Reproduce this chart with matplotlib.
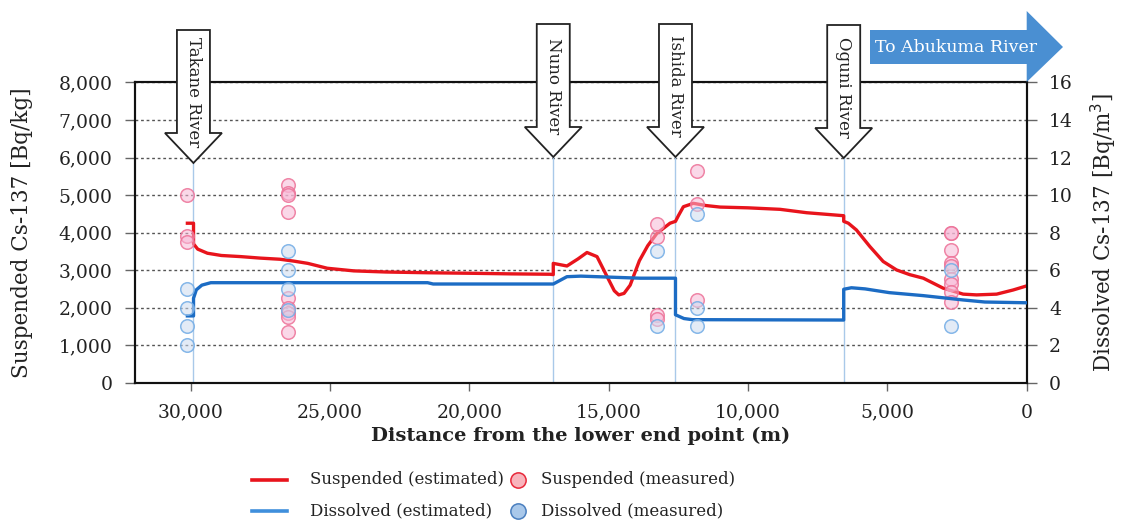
import matplotlib
matplotlib.use("Agg")
import matplotlib.pyplot as plt
from matplotlib.patches import Polygon
from matplotlib.lines import Line2D
from matplotlib.ticker import FuncFormatter, MultipleLocator

plt.rcParams['font.family'] = ['DejaVu Serif']

# ---- data -------------------------------------------------------------
# suspended Cs-137 along the river, estimated (distance m, Bq/kg)
susp_est_dist = [30120, 29900, 29900, 29750, 29400, 28900, 28200, 27500, 26800, 26300,
                 25800, 25100, 24150, 23000, 21500, 19840, 18500, 17100, 16990, 16990,
                 16500, 16100, 15780, 15420, 15060, 14800, 14640, 14450, 14230, 13900,
                 13600, 13270, 12800, 12604, 12500, 12320, 11960, 11500, 11000, 10000,
                 8850, 7900, 6567, 6567, 6400, 6110, 5630, 5150, 4670, 4200,
                 3710, 3000, 2280, 1800, 1080, 490, 0]
susp_est_val = [4250, 4250, 3700, 3560, 3450, 3390, 3360, 3320, 3290, 3240,
                3180, 3050, 2980, 2950, 2930, 2915, 2900, 2890, 2880, 3180,
                3110, 3300, 3470, 3360, 2830, 2450, 2340, 2380, 2600, 3250,
                3650, 3980, 4250, 4300, 4450, 4690, 4780, 4720, 4680, 4660,
                4620, 4530, 4450, 4300, 4250, 4070, 3630, 3230, 3005, 2880,
                2785, 2520, 2360, 2340, 2360, 2470, 2580]

# dissolved Cs-137 along the river, estimated (distance m, Bq/m3)
diss_est_dist = [30120, 29900, 29900, 29800, 29600, 29280, 21500, 21300, 16990, 16500,
                 16000, 13870, 12604, 12604, 12300, 12000, 6567, 6567, 6290, 5800,
                 4930, 3710, 2280, 1500, 0]
diss_est_val = [3.56, 3.56, 4.5, 4.95, 5.2, 5.33, 5.33, 5.26, 5.26, 5.65,
                5.68, 5.57, 5.57, 3.62, 3.42, 3.36, 3.34, 4.98, 5.06, 5.0,
                4.8, 4.64, 4.41, 4.3, 4.26]

# measured samples
susp_meas_dist = ([30140] * 3 + [26520] * 9 + [13270] * 4 + [11840] * 3 + [2700] * 9)
susp_meas_val = [5000, 3900, 3750,
                 5270, 5050, 5000, 4560, 2250, 1980, 1850, 1760, 1340,
                 4220, 3870, 1800, 1700,
                 5630, 4770, 2200,
                 4000, 3980, 3540, 3200, 3100, 2760, 2620, 2410, 2160]
diss_meas_dist = ([30140] * 4 + [26520] * 4 + [13270] * 2 + [11840] * 3 + [2700] * 2)
diss_meas_val = [5, 4, 3, 2,
                 7, 6, 5, 3.9,
                 7, 3,
                 9, 4, 3,
                 6, 3]

# tributary confluences
rivers = ["Takane River", "Nuno River", "Ishida River", "Oguni River"]
river_dist = [29903, 16990, 12604, 6567]

x_ticks = [30000, 25000, 20000, 15000, 10000, 5000, 0]

# ---- figure -----------------------------------------------------------
W, H = 1121, 523
fig = plt.figure(figsize=(W / 100, H / 100), dpi=100)


def fx(p):
    return p / W


def fy(p):
    return 1 - p / H


AX_L, AX_R, AX_T, AX_B = 135, 1026.7, 82.5, 382.7
ax = fig.add_axes([fx(AX_L), fy(AX_B), (AX_R - AX_L) / W, (AX_B - AX_T) / H])
ax2 = ax.twinx()

RED = '#e8141c'
BLUE = '#1c6cc4'

ax.set_xlim(32000, 0)
ax.set_ylim(0, 8000)
ax2.set_ylim(0, 16)
ax.set_xticks(x_ticks)
ax.yaxis.set_major_locator(MultipleLocator(1000))
ax2.yaxis.set_major_locator(MultipleLocator(2))
ax.xaxis.set_major_formatter(FuncFormatter(lambda v, p: f"{int(v):,}"))
ax.yaxis.set_major_formatter(FuncFormatter(lambda v, p: f"{int(v):,}"))

for a in (ax, ax2):
    for s in a.spines.values():
        s.set_linewidth(1.5)
        s.set_color('#111111')
    a.tick_params(length=7, width=1, color='#666666', labelsize=13.5, pad=9,
                  labelcolor='#222222')
ax.tick_params(axis='x', length=6, pad=9)

ax.grid(axis='y', linestyle=(0, (2, 2)), color='#555555', linewidth=1)
ax.set_axisbelow(True)

for d in river_dist:
    ax.axvline(d, color='#a9c9e9', linewidth=1, zorder=1)

ax.plot(susp_est_dist, susp_est_val, color=RED, linewidth=2.4, zorder=3,
        solid_joinstyle='round')
ax.scatter(susp_meas_dist, susp_meas_val, s=95, facecolor=(0.97, 0.72, 0.84, 0.55),
           edgecolor=(0.93, 0.45, 0.60, 0.85), linewidth=1.1, zorder=4)
ax2.plot(diss_est_dist, diss_est_val, color=BLUE, linewidth=2.4, zorder=3,
         solid_joinstyle='round')
ax2.scatter(diss_meas_dist, diss_meas_val, s=95, facecolor=(0.80, 0.86, 0.94, 0.55),
            edgecolor=(0.45, 0.68, 0.90, 0.85), linewidth=1.1, zorder=4)

ax.set_ylabel("Suspended Cs-137 [Bq/kg]", fontsize=15.5, color='#222222')
ax2.set_ylabel("Dissolved Cs-137 [Bq/m$^3$]", fontsize=15.5, color='#222222')
ax.yaxis.set_label_coords((33 - AX_L) / (AX_R - AX_L), 0.5)
ax2.yaxis.set_label_coords((1089 - AX_L) / (AX_R - AX_L), 0.5)
ax.set_xlabel("Distance from the lower end point (m)", fontsize=14,
              fontweight='bold', color='#222222', labelpad=4)

# ---- tributary arrows (pixel geometry at each confluence) ------------
fig.canvas.draw()
tips_y = [163, 157, 157, 158]
for name, d, ty in zip(rivers, river_dist, tips_y):
    xd, _ = ax.transData.transform((d, 0))
    top = ty - 133
    neck = ty - 30
    pts = [(xd - 16.5, top), (xd + 16.5, top), (xd + 16.5, neck), (xd + 28.5, neck),
           (xd, ty), (xd - 28.5, neck), (xd - 16.5, neck)]
    fig.patches.append(Polygon([(fx(x), fy(y)) for x, y in pts], closed=True,
                               transform=fig.transFigure, facecolor='white',
                               edgecolor='#222222', linewidth=1.3, zorder=5))
    fig.text(fx(xd), fy(top + 62), name, rotation=-90, ha='center', va='center',
             fontsize=12, color='#222222', zorder=6)

# downstream arrow
dn = [(870, 30), (1026.7, 30), (1026.7, 11), (1063, 47), (1026.7, 82),
      (1026.7, 64), (870, 64)]
fig.patches.append(Polygon([(fx(x), fy(y)) for x, y in dn], closed=True,
                           transform=fig.transFigure, facecolor='#4a8fd2',
                           edgecolor='none', zorder=5))
fig.text(fx(956), fy(47), "To Abukuma River", ha='center', va='center',
         fontsize=12.5, color='white', zorder=6)

# ---- legend -----------------------------------------------------------
rows = [480, 511]
fig.add_artist(Line2D([fx(252), fx(287)], [fy(rows[0])] * 2, color=RED, linewidth=2.6))
fig.add_artist(Line2D([fx(252), fx(287)], [fy(rows[1])] * 2, color='#3f8fdc', linewidth=2.6))
fig.add_artist(Line2D([fx(518)], [fy(rows[0])], marker='o', markersize=11,
                      markerfacecolor='#f8b4bc', markeredgecolor='#e8283a',
                      markeredgewidth=1.1, linestyle='none'))
fig.add_artist(Line2D([fx(518)], [fy(rows[1])], marker='o', markersize=11,
                      markerfacecolor='#a9c8ea', markeredgecolor='#4a7fbf',
                      markeredgewidth=1.1, linestyle='none'))
labels = [("Suspended (estimated)", 310, rows[0]), ("Dissolved (estimated)", 310, rows[1]),
          ("Suspended (measured)", 541, rows[0]), ("Dissolved (measured)", 541, rows[1])]
for t, x, y in labels:
    fig.text(fx(x), fy(y), t, ha='left', va='center', fontsize=12, color='#222222')

fig.savefig("out.png", dpi=100)
